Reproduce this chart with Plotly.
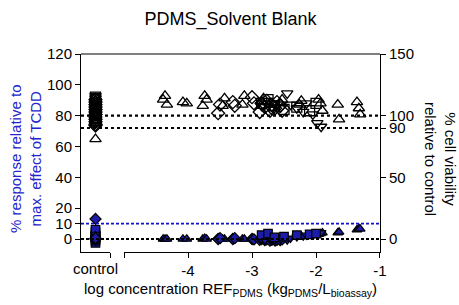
import plotly.graph_objects as go

# ---------------- data ----------------
# control group (plotted at the "control" break segment)
ctrl_via_tri_up = [81, 94, 96, 98, 100, 102, 104, 106, 108, 110, 112]
ctrl_via_dia = [92, 93, 95, 97, 99, 101, 103, 105, 107, 109, 111, 113]
ctrl_via_tri_down = [94, 97, 100, 103, 106, 109, 112, 114, 116]
ctrl_via_sq = [95, 98, 101, 104, 107, 110, 113, 115]
ctrl_resp_sq = [-2.5, -1, 0, 1, 2, 3, 4.5, 6]
ctrl_resp_dia = [0, 0.5, 13]
ctrl_resp_tri_up = [0, 1, 2]
ctrl_resp_tri_down = [-1, 1, 3]

# triangle-up series
tu_x = [-4.39, -4.36, -4.33, -4.08, -4.02, -3.77, -3.74, -3.71, -3.46, -3.43,
        -3.15, -3.12, -2.85, -2.82, -2.56, -2.53, -2.26, -2.23, -1.96, -1.93,
        -1.90, -1.66, -1.64, -1.36, -1.33, -1.31]
tu_via = [113, 116, 109, 111, 110, 108, 116, 113, 108, 114,
          109, 116, 111, 114, 110, 113, 109, 112, 113, 110,
          104, 109, 97, 111, 106, 101]
tu_resp = [0, 0, 0, 0, 0, 0, 0.5, 0, 0, 0,
           0, 0, 0, 0.5, 0.5, 1, 1.5, 2, 3, 3.5,
           4, 4, 4.5, 6, 7, 6.5]

# diamond series
dia_x = [-3.53, -3.50, -3.30, -3.27, -3.00, -2.97, -2.88, -2.85, -2.80, -2.77,
         -2.72, -2.69, -2.64, -2.61, -2.56, -2.53]
dia_via = [102, 109, 111, 108, 115, 110, 103, 110, 107, 112,
           104, 109, 106, 111, 108, 104]
dia_resp = [0, 0.5, 0, 0.5, 0, -0.3, -0.5, 0, -0.8, -0.3,
            -1, -0.5, -1, -0.5, -0.8, -0.3]

# triangle-down series
td_x = [-2.85, -2.80, -2.70, -2.65, -2.55, -2.45, -2.40, -2.30, -2.20, -2.15,
        -2.05, -1.98, -1.92]
td_via = [108, 112, 105, 110, 107, 118, 109, 106, 103, 110, 101, 94, 91]
td_resp = [0, -0.5, 0, -0.5, 0, -0.6, 0.5, 1.5, 2, 2.5, 3, 3.5, 4]

# square series
sq_x = [-2.85, -2.75, -2.65, -2.50, -2.30, -2.10, -2.00]
sq_via = [110, 113, 108, 105, 107, 104, 110]
sq_resp = [2.5, 3.5, 1, 1.5, 2.5, 3, 3.5]

left_ticks = [0, 10, 20, 40, 60, 80, 100, 120]
right_ticks = [0, 50, 90, 100, 150]
x_ticks = [-5, -4, -3, -2, -1]
x_ticktext = ["", "-4", "-3", "-2", "-1"]

# ---------------- style ----------------
BLUE = "#1c1ca8"
TXT_BLUE = "#2424cc"
FONT = "Liberation Sans, Arial, sans-serif"

fig = go.Figure()

def open_trace(x, y, sym, xaxis):
    fig.add_trace(go.Scatter(
        x=x, y=y, mode="markers", xaxis=xaxis, yaxis="y2",
        marker=dict(symbol=sym + "-open", size=10, color="black",
                    line=dict(width=1.3, color="black")),
        showlegend=False, hoverinfo="skip"))

def blue_trace(x, y, sym, xaxis):
    fig.add_trace(go.Scatter(
        x=x, y=y, mode="markers", xaxis=xaxis, yaxis="y",
        marker=dict(symbol=sym, size=8.5, color=BLUE,
                    line=dict(width=1.2, color="black")),
        showlegend=False, hoverinfo="skip"))

# viability (right axis, open symbols)
open_trace(tu_x, tu_via, "triangle-up", "x2")
open_trace(dia_x, dia_via, "diamond", "x2")
open_trace(td_x, td_via, "triangle-down", "x2")
open_trace(sq_x, sq_via, "square", "x2")
open_trace([0.5] * len(ctrl_via_tri_up), ctrl_via_tri_up, "triangle-up", "x")
open_trace([0.5] * len(ctrl_via_dia), ctrl_via_dia, "diamond", "x")
open_trace([0.5] * len(ctrl_via_tri_down), ctrl_via_tri_down, "triangle-down", "x")
open_trace([0.5] * len(ctrl_via_sq), ctrl_via_sq, "square", "x")

# response (left axis, blue filled)
blue_trace(tu_x, tu_resp, "triangle-up", "x2")
blue_trace(dia_x, dia_resp, "diamond", "x2")
blue_trace(td_x, td_resp, "triangle-down", "x2")
blue_trace(sq_x, sq_resp, "square", "x2")
blue_trace([0.5] * len(ctrl_resp_sq), ctrl_resp_sq, "square", "x")
blue_trace([0.5] * len(ctrl_resp_tri_up), ctrl_resp_tri_up, "triangle-up", "x")
blue_trace([0.5] * len(ctrl_resp_tri_down), ctrl_resp_tri_down, "triangle-down", "x")
blue_trace([0.5] * len(ctrl_resp_dia), ctrl_resp_dia, "diamond", "x")

axis_common = dict(showgrid=False, zeroline=False, showline=True,
                   linecolor="black", linewidth=1, ticks="outside",
                   ticklen=5, tickcolor="black", tickwidth=1,
                   tickfont=dict(size=15, color="black", family=FONT))

fig.update_layout(
    width=459, height=305,
    margin=dict(l=81, r=79, t=54, b=53),
    paper_bgcolor="white", plot_bgcolor="white",
    font=dict(family=FONT, color="black"),
    title=dict(text="PDMS_Solvent Blank", x=0.5, xanchor="center",
               xref="paper", y=0.94, yanchor="middle",
               font=dict(size=18, family=FONT, color="black")),
    xaxis=dict(domain=[0, 0.097], range=[0, 1], tickvals=[1],
               ticktext=[""], anchor="y", **axis_common),
    xaxis2=dict(domain=[0.144, 1], range=[-5, -1], tickvals=x_ticks,
                ticktext=x_ticktext, anchor="y", **axis_common),
    yaxis=dict(range=[-8.43, 120], tickvals=left_ticks, anchor="x",
               **axis_common),
    yaxis2=dict(range=[-10.54, 150], tickvals=right_ticks, overlaying="y",
                side="right", anchor="x2", **axis_common),
)

shapes = [
    dict(type="line", xref="paper", yref="paper", x0=0, x1=1, y0=1, y1=1,
         line=dict(color="black", width=1)),
    dict(type="line", xref="paper", yref="y", x0=0, x1=1, y0=80, y1=80,
         line=dict(color="black", width=2.2, dash="dot")),
    dict(type="line", xref="paper", yref="y", x0=0, x1=1, y0=72, y1=72,
         line=dict(color="black", width=2.2, dash="dot")),
    dict(type="line", xref="paper", yref="y", x0=0, x1=1, y0=10, y1=10,
         line=dict(color="#1010c8", width=1.8, dash="3px,2px")),
    dict(type="line", xref="paper", yref="y", x0=0, x1=1, y0=0, y1=0,
         line=dict(color="black", width=1.8, dash="3px,2px")),
]
fig.update_layout(shapes=shapes)

annotations = [
    dict(text="control", xref="x", x=0.5, yref="paper", y=0, yanchor="top",
         yshift=-6, showarrow=False, font=dict(size=15, family=FONT)),
    dict(text="log concentration REF<sub>PDMS</sub> (kg<sub>PDMS</sub>/L<sub>bioassay</sub>)",
         xref="paper", x=0.5, yref="paper", y=0, yanchor="top", yshift=-26,
         showarrow=False, font=dict(size=15, family=FONT)),
    dict(text="% response relative to<br>max. effect of TCDD", textangle=-90,
         xref="paper", x=0, xanchor="center", xshift=-55, yref="paper", y=0.47,
         yanchor="middle", showarrow=False,
         font=dict(size=15, family=FONT, color=TXT_BLUE)),
    dict(text="% cell viability<br>relative to control", textangle=90,
         xref="paper", x=1, xanchor="center", xshift=60, yref="paper", y=0.47,
         yanchor="middle", showarrow=False,
         font=dict(size=15, family=FONT, color="black")),
]
fig.update_layout(annotations=annotations)

fig.write_html("out.html", config={"displayModeBar": False},
               post_script="document.body.style.margin='0';document.body.style.padding='0';")
